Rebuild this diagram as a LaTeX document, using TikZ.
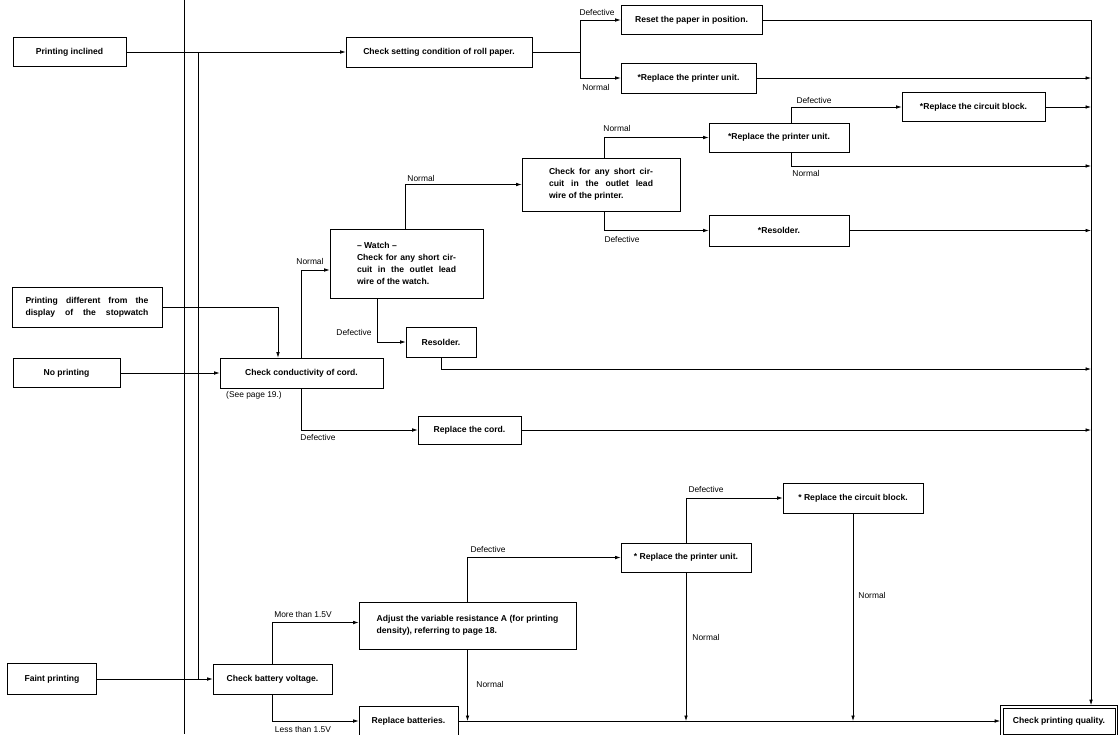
\documentclass[tikz,border=0pt]{standalone}
\usepackage{fontspec}
\setmainfont{Liberation Sans}
\usetikzlibrary{arrows.meta}
\newcommand{\fitline}[2]{\makebox[#1][s]{#2}}
\begin{document}
\begin{tikzpicture}[x=1pt, y=-1pt,
  blk/.style={draw=black, line width=0.7pt, inner sep=0pt, align=center, font=\bfseries\fontsize{8.6}{12}\selectfont},
  lbl/.style={inner sep=0pt, font=\fontsize{8.4}{10}\selectfont},
  arr/.style={line width=0.7pt, -{Latex[length=5.5pt, width=3.6pt]}},
  ln/.style={line width=0.7pt}]
\useasboundingbox (0,0) rectangle (1118,734);
\fill[white] (0,0) rectangle (1118,734);
\clip (0,0) rectangle (1118,734);
\node[blk, minimum width=113, minimum height=29] (pinc) at (69.5,52) {Printing inclined};
\node[blk, minimum width=186, minimum height=30] (chkroll) at (439,52) {Check setting condition of roll paper.};
\node[blk, minimum width=141, minimum height=29] (reset) at (691.5,20) {Reset the paper in position.};
\node[blk, minimum width=135, minimum height=30] (rpu1) at (688.5,78) {*Replace the printer unit.};
\node[blk, minimum width=143, minimum height=29] (rcb1) at (973.5,107) {*Replace the circuit block.};
\node[blk, minimum width=140, minimum height=29] (rpu2) at (779,137.5) {*Replace the printer unit.};
\node[blk, minimum width=158, minimum height=53, align=left] (shortP) at (601,184.5) {\fitline{104pt}{Check for any short cir-}\\\fitline{104pt}{cuit in the outlet lead}\\wire of the printer.};
\node[blk, minimum width=140, minimum height=31] (res1) at (779,230.5) {*Resolder.};
\node[blk, minimum width=153, minimum height=69, align=left] (watch) at (406.5,263.5) {-- Watch --\\\fitline{99pt}{Check for any short cir-}\\\fitline{99pt}{cuit in the outlet lead}\\wire of the watch.};
\node[blk, minimum width=150, minimum height=40, align=left] (pdiff) at (87,307) {\fitline{123pt}{Printing different from the}\\\fitline{123pt}{display of the stopwatch}};
\node[blk, minimum width=70, minimum height=30] (res2) at (441,342) {Resolder.};
\node[blk, minimum width=107, minimum height=29] (noprint) at (66.5,373) {No printing};
\node[blk, minimum width=163, minimum height=30] (cond) at (301.5,373) {Check conductivity of cord.};
\node[blk, minimum width=103, minimum height=28] (cord) at (469.5,430) {Replace the cord.};
\node[blk, minimum width=140, minimum height=30] (rcb2) at (853,498) {* Replace the circuit block.};
\node[blk, minimum width=130, minimum height=29] (rpu3) at (686,557.5) {* Replace the printer unit.};
\node[blk, minimum width=217, minimum height=47, align=left] (adjust) at (467.5,625.5) {Adjust the variable resistance A (for printing\\density), referring to page 18.};
\node[blk, minimum width=89, minimum height=31] (faint) at (52,679) {Faint printing};
\node[blk, minimum width=119, minimum height=30] (batt) at (272.5,679) {Check battery voltage.};
\node[blk, minimum width=99, minimum height=30] (repbat) at (408.5,721) {Replace batteries.};
\node[blk, minimum width=112, minimum height=26] (quality) at (1059,721) {Check printing quality.};
\draw[line width=1.1pt] ([shift={(-2.5pt,2.5pt)}]quality.north west) rectangle ([shift={(2.5pt,-2.5pt)}]quality.south east);
\node[lbl] (l1) at (597,12) {Defective};
\node[lbl] (l2) at (596,87) {Normal};
\node[lbl] (l3) at (421,178) {Normal};
\node[lbl] (l4) at (617,128) {Normal};
\node[lbl] (l5) at (622,239) {Defective};
\node[lbl] (l6) at (814,100) {Defective};
\node[lbl] (l7) at (806,173) {Normal};
\node[lbl] (l8) at (310,261) {Normal};
\node[lbl] (l9) at (354,332) {Defective};
\node[lbl] (l10) at (318,437) {Defective};
\node[lbl] (l11) at (254,395) {(See page 19.)};
\node[lbl] (l12) at (303,614) {More than 1.5V};
\node[lbl] (l13) at (303,729) {Less than 1.5V};
\node[lbl] (l14) at (488,549) {Defective};
\node[lbl] (l15) at (490,684) {Normal};
\node[lbl] (l16) at (706,489) {Defective};
\node[lbl] (l17) at (706,637) {Normal};
\node[lbl] (l18) at (872,595) {Normal};
\draw[ln] (184,0) -- (184,734);
\coordinate (j1) at (198,52);
\coordinate (j2) at (198,679);
\coordinate (b1) at (580,52);
\coordinate (rt) at (1091,20);
\coordinate (r2) at (1091,166);
\coordinate (r3) at (1091,369);
\draw[arr] (pinc) -- (chkroll);
\draw[ln] (j1) -- (j2);
\draw[arr] (faint) -- (batt);
\draw[ln] (chkroll) -- (b1);
\draw[arr] (b1) |- (reset);
\draw[arr] (b1) |- (rpu1);
\draw[arr] (reset) -- (rt) -- ([yshift=2.5pt]rt |- quality.north);
\draw[arr] (rpu1) -- (rpu1 -| rt);
\draw[arr] (rcb1) -- (rcb1 -| rt);
\draw[arr] (res1) -- (res1 -| rt);
\draw[arr] (cord) -- (cord -| rt);
\draw[arr] ([xshift=12pt]rpu2.north) |- (rcb1);
\draw[arr] ([xshift=12pt]rpu2.south) |- (r2);
\draw[arr] ([xshift=3pt]shortP.north) |- (rpu2);
\draw[arr] ([xshift=3pt]shortP.south) |- (res1);
\draw[arr] ([xshift=-1.5pt]watch.north) |- (shortP);
\draw[arr] ([xshift=-29.5pt]watch.south) |- (res2);
\draw[arr] (res2.south) |- (r3);
\draw[arr] (cond.north) |- ([yshift=-6.5pt]watch.west);
\draw[arr] (pdiff) -| ([xshift=-23.5pt]cond.north);
\draw[arr] (noprint) -- (cond);
\draw[arr] (cond.south) |- (cord);
\draw[arr] (batt.north) |- ([yshift=3pt]adjust.west);
\draw[arr] (batt.south) |- (repbat);
\draw[arr] (adjust.north) |- (rpu3);
\draw[arr] (adjust.south) -- (adjust.south |- repbat.east);
\draw[arr] (rpu3.north) |- (rcb2);
\draw[arr] (rpu3.south) -- (rpu3.south |- repbat.east);
\draw[arr] (rcb2.south) -- (rcb2.south |- repbat.east);
\draw[arr] (repbat) -- ([xshift=-2.5pt]quality.west);
\end{tikzpicture}
\end{document}
